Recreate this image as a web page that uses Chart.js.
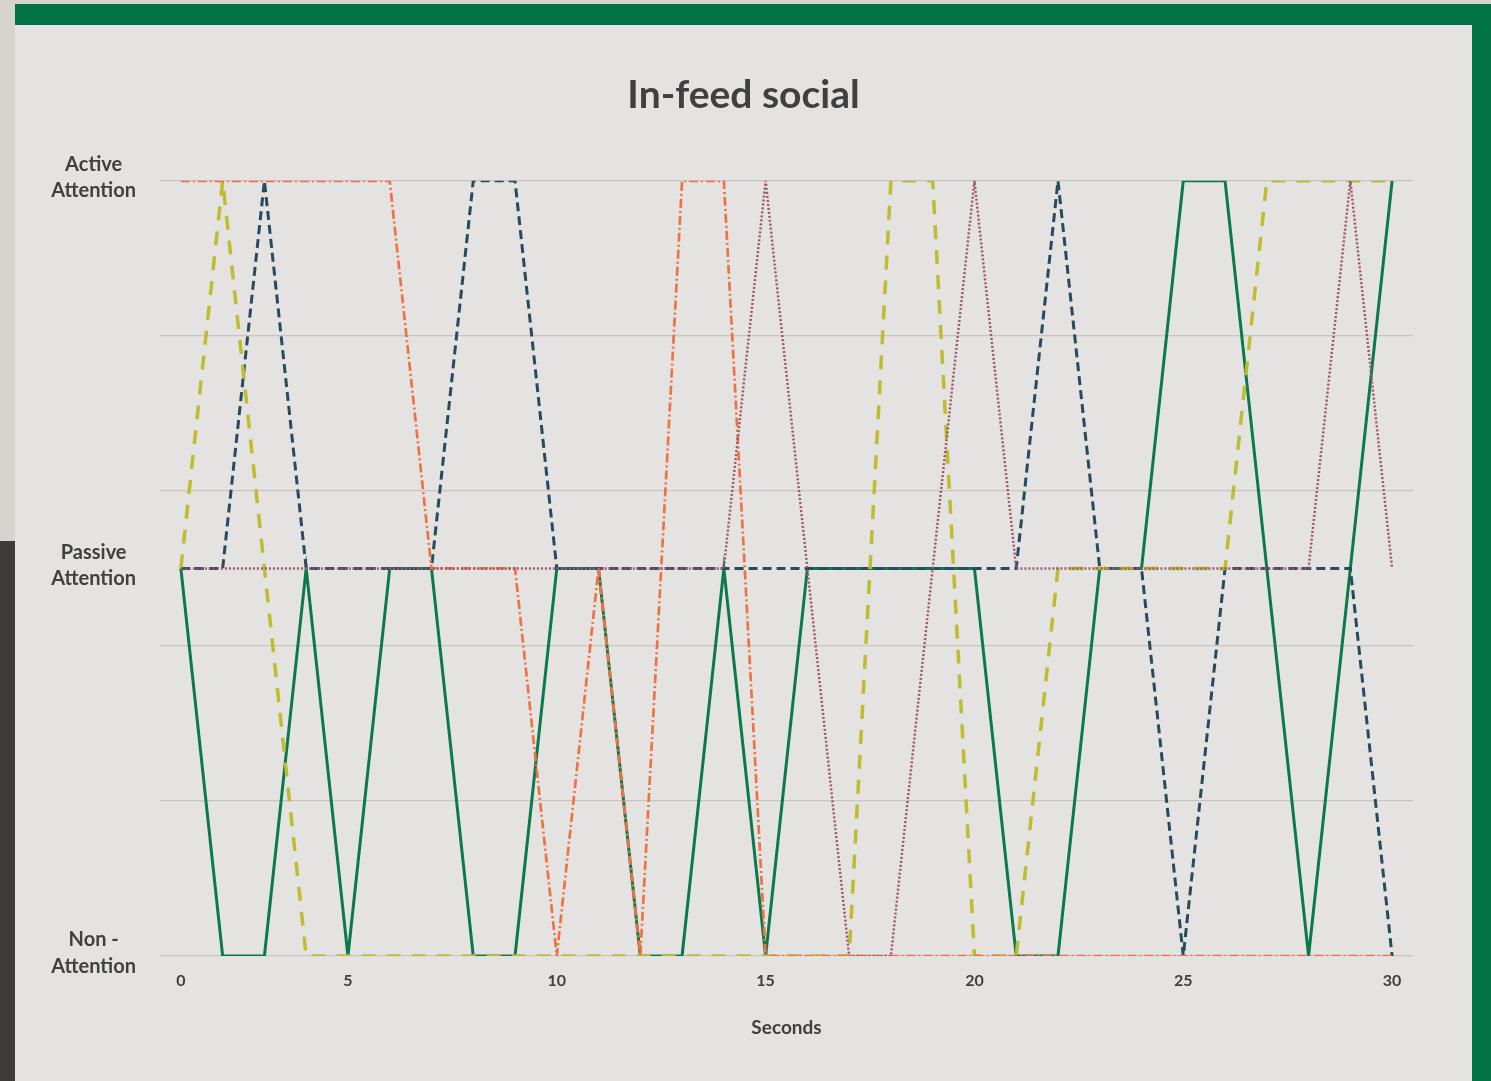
<!DOCTYPE html>
<html>
<head>
<meta charset="utf-8">
<title>In-feed social</title>
<script src="https://cdn.jsdelivr.net/npm/chart.js@4"></script>
<style>
  html, body { margin: 0; padding: 0; }
  body { width: 1491px; height: 1081px; background: #d7d3cf; position: relative; overflow: hidden; }
  .band { position: absolute; background: #017245; }
  #bandTop { left: 15px; top: 4px; width: 1476px; height: 21px; }
  #bandSide { left: 1472px; top: 4px; width: 19px; height: 1077px; }
  #edge { position: absolute; left: 0; top: 541px; width: 15px; height: 540px; background: #3e3a37; }
  #card { position: absolute; left: 15px; top: 25px; width: 1457px; height: 1056px; background: #e4e3e1; }
  #card canvas { display: block; }
</style>
</head>
<body>
<div id="edge"></div>
<div class="band" id="bandTop"></div>
<div class="band" id="bandSide"></div>
<div id="card"><canvas id="chart" width="1457" height="1056"></canvas></div>
<script>
// One point per second; only every fifth second carries a label.
const seconds = ['0', '', '', '', '5', '', '', '', '', '10', '', '', '', '', '15',
                 '', '', '', '', '20', '', '', '', '', '25', '', '', '', '', '30'];

// Attention level per second: 0 = non-attention, 1 = passive, 2 = active.
const viewerA = [1,0,0,1,0,1,1,0,0,1,1,0,0,1,0,1,1,1,1,1,0,0,1,1,2,2,1,0,1,2];
const viewerB = [1,1,2,1,1,1,1,2,2,1,1,1,1,1,1,1,1,1,1,1,1,2,1,1,0,1,1,1,1,0];
const viewerC = [1,2,1,0,0,0,0,0,0,0,0,0,0,0,0,0,0,2,2,0,0,1,1,1,1,1,2,2,2,2];
const viewerD = [2,2,2,2,2,2,1,1,1,0,1,0,2,2,0,0,0,0,0,0,0,0,0,0,0,0,0,0,0,0];
const viewerE = [1,1,1,1,1,1,1,1,1,1,1,1,1,1,2,1,0,0,1,2,1,1,1,1,1,1,1,1,2,1];

// Y axis: gridlines every 0.4, labels only on the three attention levels.
const gridValues = [0, 0.4, 0.8, 1, 1.2, 1.6, 2];
const levelValues = [0, 1, 2];
const levelLabels = [['Non -', 'Attention'], ['Passive', 'Attention'], ['Active', 'Attention']];

const FONT = 'Lato, "Open Sans", sans-serif';
const TEXT = '#404040';
const GRID = '#c9c4bf';

function series(data, color, width, dash, order) {
  return {
    data: data,
    borderColor: color,
    backgroundColor: color,
    borderWidth: width,
    borderDash: dash,
    pointRadius: 0,
    pointHoverRadius: 0,
    tension: 0,
    fill: false,
    order: order
  };
}

new Chart(document.getElementById('chart'), {
  type: 'line',
  data: {
    labels: seconds,
    datasets: [
      series(viewerA, '#0b7a4a', 3, [], 5),
      series(viewerB, '#264b5f', 3, [9, 5], 4),
      series(viewerC, '#bdbd2f', 3.5, [14, 11], 3),
      series(viewerD, '#f07142', 2.7, [9, 3, 2, 3], 2),
      series(viewerE, '#a0566b', 2.5, [2, 2], 1)
    ]
  },
  options: {
    responsive: false,
    animation: false,
    events: [],
    layout: { padding: 0 },
    plugins: {
      legend: { display: false },
      tooltip: { enabled: false },
      title: {
        display: true,
        text: 'In-feed social',
        color: TEXT,
        font: { family: FONT, size: 39, weight: 'bold', lineHeight: 1.2 },
        padding: { top: 47, bottom: 62 }
      }
    },
    scales: {
      x: {
        type: 'category',
        offset: true,
        grid: { display: false },
        border: { display: false },
        ticks: {
          autoSkip: false,
          maxRotation: 0,
          color: TEXT,
          padding: 7,
          font: { family: FONT, size: 16, weight: 'bold' }
        },
        title: {
          display: true,
          text: 'Seconds',
          color: TEXT,
          font: { family: FONT, size: 19, weight: 'bold', lineHeight: 1.2 },
          padding: { top: 20, bottom: 42 }
        },
        afterFit(scale) { scale.height = 125; }
      },
      y: {
        min: 0,
        max: 2,
        border: { display: false },
        afterBuildTicks(scale) { scale.ticks = gridValues.map(v => ({ value: v })); },
        grid: {
          drawTicks: false,
          lineWidth: 1.3,
          color: ctx => (ctx.tick && ctx.tick.value === 1) ? 'rgba(0,0,0,0)' : GRID
        },
        ticks: {
          crossAlign: 'center',
          padding: 24,
          labelOffset: -3,
          color: TEXT,
          font: { family: FONT, size: 20, weight: 'bold', lineHeight: 1.32 },
          callback: v => {
            const i = levelValues.indexOf(v);
            return i < 0 ? '' : levelLabels[i];
          }
        },
        afterFit(scale) { scale.width = 145; }
      },
      // Empty right-hand margin so the title stays centred on the whole card.
      margin: {
        type: 'linear',
        position: 'right',
        display: true,
        grid: { display: false },
        border: { display: false },
        ticks: { display: false },
        afterFit(scale) { scale.width = 59; }
      }
    }
  }
});
</script>
</body>
</html>
